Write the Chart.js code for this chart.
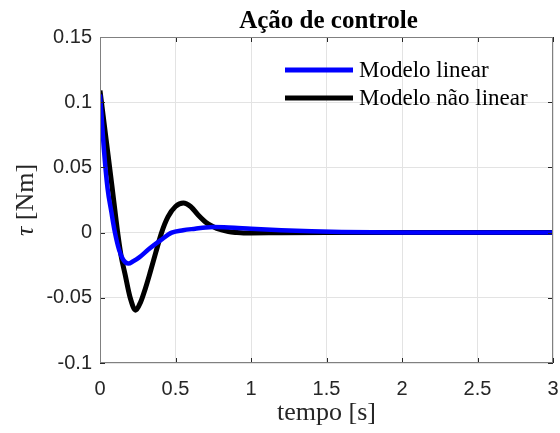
<!DOCTYPE html>
<html>
<head>
<meta charset="utf-8">
<script src="https://cdn.jsdelivr.net/npm/chart.js@4.4.0/dist/chart.umd.min.js"></script>
<style>
  html, body { margin: 0; padding: 0; background: #fff; }
  #wrap { width: 560px; height: 433px; }
</style>
</head>
<body>
<div id="wrap"><canvas id="acaoChart" width="560" height="433"></canvas></div>
<script>
// tempo [s] e torque [Nm]
var tLinear = [0, 0.01, 0.025, 0.05, 0.075, 0.099, 0.126, 0.155, 0.188, 0.22, 0.26, 0.32, 0.4, 0.475, 0.55, 0.63, 0.7, 0.75, 0.85, 1.0, 1.2, 1.4, 1.6, 2.0, 2.5, 3];
var tauLinear = [0.106, 0.09, 0.065, 0.034, 0.016, 0, -0.013, -0.021, -0.0237, -0.022, -0.019, -0.013, -0.006, 0, 0.0018, 0.003, 0.004, 0.0043, 0.004, 0.003, 0.0018, 0.001, 0.0005, 0.0001, 0, 0];

var tNaoLinear = [0, 0.04, 0.08, 0.117, 0.14, 0.166, 0.2, 0.236, 0.27, 0.3, 0.331, 0.37, 0.408, 0.45, 0.5, 0.552, 0.6, 0.65, 0.7, 0.75, 0.8, 0.85, 0.9, 0.95, 1.0, 1.2, 1.5, 2, 2.5, 3];
var tauNaoLinear = [0.109, 0.072, 0.035, 0, -0.018, -0.032, -0.05, -0.0595, -0.053, -0.043, -0.031, -0.015, 0, 0.012, 0.02, 0.0227, 0.02, 0.0135, 0.008, 0.0045, 0.0022, 0.0008, 0.0001, -0.0003, -0.0003, -0.0001, 0, 0, 0, 0];

var seriesLabels = ['Modelo linear', 'Modelo não linear'];
var xTicks = [0, 0.5, 1, 1.5, 2, 2.5, 3];
var yTicks = [-0.1, -0.05, 0, 0.05, 0.1, 0.15];

function toPoints(xs, ys) {
    return xs.map(function (x, i) { return { x: x, y: ys[i] }; });
}

var AXIS_COLOR = '#808080';
var TEXT_COLOR = '#262626';
var SERIF = '"Liberation Serif", "Times New Roman", serif';

// título, rótulos dos eixos, legenda e marcas internas (estilo MATLAB)
var decoracao = {
    id: 'decoracao',
    afterDraw: function (chart) {
        var ctx = chart.ctx;
        var a = chart.chartArea;
        var xs = chart.scales.x, ys = chart.scales.y;
        ctx.save();

        // marcas para dentro nos quatro lados
        ctx.strokeStyle = '#262626';
        ctx.lineWidth = 1;
        ctx.beginPath();
        xTicks.forEach(function (v) {
            var px = Math.round(xs.getPixelForValue(v)) + 0.5;
            ctx.moveTo(px, a.bottom); ctx.lineTo(px, a.bottom - 5);
            ctx.moveTo(px, a.top); ctx.lineTo(px, a.top + 5);
        });
        yTicks.forEach(function (v) {
            var py = Math.round(ys.getPixelForValue(v)) + 0.5;
            ctx.moveTo(a.left, py); ctx.lineTo(a.left + 5, py);
            ctx.moveTo(a.right, py); ctx.lineTo(a.right - 5, py);
        });
        ctx.stroke();

        // caixa
        ctx.strokeStyle = AXIS_COLOR;
        ctx.strokeRect(a.left + 0.5, a.top + 0.5, a.right - a.left - 1, a.bottom - a.top - 1);

        // título
        ctx.fillStyle = '#000';
        ctx.font = 'bold 25px ' + SERIF;
        ctx.textAlign = 'center';
        ctx.textBaseline = 'alphabetic';
        ctx.fillText('Ação de controle', (a.left + a.right) / 2 + 2, 28);

        // eixo x
        ctx.fillStyle = TEXT_COLOR;
        ctx.font = '26px ' + SERIF;
        ctx.fillText('tempo [s]', (a.left + a.right) / 2, 420);

        // eixo y: τ [Nm]
        ctx.translate(33, (a.top + a.bottom) / 2);
        ctx.rotate(-Math.PI / 2);
        var tau = 'τ', resto = ' [Nm]';
        var fItal = 'italic 26px ' + SERIF;
        var fReg = '26px ' + SERIF;
        ctx.font = fItal; var w1 = ctx.measureText(tau).width;
        ctx.font = fReg; var w2 = ctx.measureText(resto).width;
        var x0 = -(w1 + w2) / 2;
        ctx.textAlign = 'left';
        ctx.font = fItal; ctx.fillText(tau, x0, 0);
        ctx.font = fReg; ctx.fillText(resto, x0 + w1, 0);
        ctx.setTransform(1, 0, 0, 1, 0, 0);

        // legenda
        var lx = 285, ly = [70, 98];
        chart.data.datasets.forEach(function (ds, i) {
            ctx.strokeStyle = ds.borderColor;
            ctx.lineWidth = 5;
            ctx.beginPath();
            ctx.moveTo(lx, ly[i]); ctx.lineTo(lx + 68, ly[i]);
            ctx.stroke();
            ctx.fillStyle = '#000';
            ctx.font = '23px ' + SERIF;
            ctx.textAlign = 'left';
            ctx.textBaseline = 'middle';
            ctx.fillText(ds.label, lx + 74, ly[i] + 1);
        });
        ctx.restore();
    }
};

var ctx = document.getElementById('acaoChart').getContext('2d');
new Chart(ctx, {
    type: 'scatter',
    data: {
        datasets: [{
            label: seriesLabels[0],
            data: toPoints(tLinear, tauLinear),
            showLine: true,
            borderColor: '#0000ff',
            borderWidth: 4.5,
            pointRadius: 0,
            cubicInterpolationMode: 'monotone'
        }, {
            label: seriesLabels[1],
            data: toPoints(tNaoLinear, tauNaoLinear),
            showLine: true,
            borderColor: '#000000',
            borderWidth: 5,
            pointRadius: 0,
            cubicInterpolationMode: 'monotone'
        }]
    },
    options: {
        responsive: false,
        animation: false,
        layout: { padding: { top: 37, right: 7, left: 0, bottom: 0 } },
        plugins: {
            legend: { display: false },
            tooltip: { enabled: false }
        },
        scales: {
            x: {
                type: 'linear',
                min: 0, max: 3,
                afterBuildTicks: function (s) { s.ticks = xTicks.map(function (v) { return { value: v }; }); },
                afterFit: function (s) { s.height = 70; s.paddingLeft = 0; s.paddingRight = 0; },
                grid: { color: '#e3e3e3', drawTicks: false },
                border: { display: false },
                ticks: {
                    color: TEXT_COLOR,
                    padding: 14,
                    font: { family: '"Liberation Sans", Arial, sans-serif', size: 20 },
                    callback: function (v) { return String(v); }
                }
            },
            y: {
                type: 'linear',
                min: -0.1, max: 0.15,
                afterBuildTicks: function (s) { s.ticks = yTicks.map(function (v) { return { value: v }; }); },
                afterFit: function (s) { s.width = 100; s.paddingTop = 0; s.paddingBottom = 0; },
                grid: { color: '#e3e3e3', drawTicks: false },
                border: { display: false },
                ticks: {
                    color: TEXT_COLOR,
                    padding: 8,
                    font: { family: '"Liberation Sans", Arial, sans-serif', size: 20 },
                    callback: function (v) { return String(Math.round(v * 100) / 100); }
                }
            }
        }
    },
    plugins: [decoracao]
});
</script>
</body>
</html>
